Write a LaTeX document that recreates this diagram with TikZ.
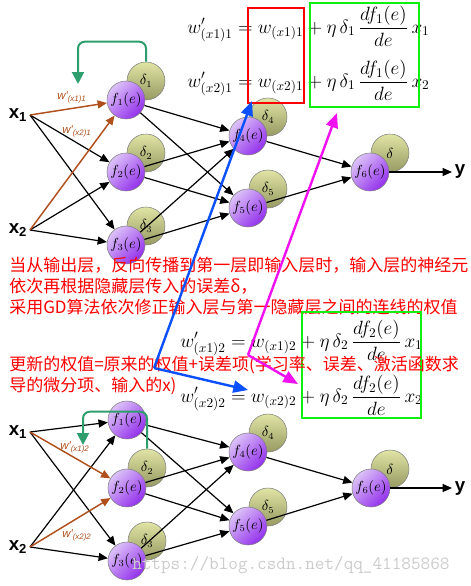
\documentclass[tikz,border=0pt]{standalone}
\usepackage{amsmath,amssymb}
\usepackage{fontspec}
\newfontfamily\cjk{Noto Sans CJK SC}
\newfontfamily\arial{Liberation Sans}
\usepackage{tikz}
\usetikzlibrary{arrows.meta}
\usepackage{xcolor}
\definecolor{fLight}{HTML}{DCC2F8}
\definecolor{fDark}{HTML}{9330EC}
\definecolor{dLight}{HTML}{E0E4A4}
\definecolor{dDark}{HTML}{979A62}
\definecolor{wbrown}{HTML}{B0501C}
\definecolor{fbgreen}{HTML}{2E9E6E}
\definecolor{pointblue}{HTML}{0A50FF}
\definecolor{pointmag}{HTML}{F010F0}
\definecolor{boxgreen}{HTML}{10F010}

\begin{document}
\begin{tikzpicture}[x=0.75pt,y=-0.75pt,>={Triangle[length=7pt,width=6pt]},
  fnode/.style={circle,draw=black!50,line width=0.4pt,inner sep=0pt,minimum size=28.5pt,
    top color=fLight,bottom color=fDark,shading angle=45,font=\fontsize{10.5}{11}\selectfont},
  dnode/.style={fnode,top color=dLight,bottom color=dDark},
  xin/.style={font=\arial\bfseries\fontsize{14}{15}\selectfont,inner sep=2pt},
  edge/.style={->,line width=0.9pt},
  wedge/.style={->,line width=1.1pt,draw=wbrown},
  wlabel/.style={text=wbrown,font=\arial\itshape\fontsize{8.5}{9}\selectfont,inner sep=0pt},
  fback/.style={-{Triangle[length=9pt,width=9pt]},line width=1.5pt,draw=fbgreen,rounded corners=5pt},
  eqn/.style={anchor=west,inner sep=0pt,font=\fontsize{14}{16}\selectfont},
  redtext/.style={anchor=west,align=left,inner sep=0pt,text=red,font=\cjk\fontsize{12.75}{15.75}\selectfont},
  bluearr/.style={-{Triangle[length=11pt,width=9pt]},line width=1.8pt,draw=pointblue},
  magarr/.style={-{Triangle[length=11pt,width=9pt]},line width=1.8pt,draw=pointmag}]
\useasboundingbox (0,0) rectangle (471,586);
\fill[white] (0,0) rectangle (471,586);

% upper network
\node[xin,anchor=east] (tx1) at (30,115) {x\textsubscript{1}};
\node[xin,anchor=east] (tx2) at (30,230) {x\textsubscript{2}};
\node[dnode] (td1) at (146,81) {$\delta_1$};
\node[dnode] (td2) at (146,153) {$\delta_2$};
\node[dnode] (td3) at (146,226) {$\delta_3$};
\node[dnode] (td4) at (268,117) {$\delta_4$};
\node[dnode] (td5) at (268,189) {$\delta_5$};
\node[dnode] (td6) at (390,153) {$\delta$};
\node[fnode] (tf1) at (126,100) {$f_1(e)$};
\node[fnode] (tf2) at (126,172) {$f_2(e)$};
\node[fnode] (tf3) at (126,245) {$f_3(e)$};
\node[fnode] (tf4) at (248,136) {$f_4(e)$};
\node[fnode] (tf5) at (248,208) {$f_5(e)$};
\node[fnode] (tf6) at (370,172) {$f_6(e)$};
\node[xin,anchor=west] (ty) at (452,172) {y};
\foreach \i in {2,3} {
  \draw[edge] (tx1.east) -- (tf\i);
  \draw[edge] (tx2.east) -- (tf\i);
}
\foreach \a in {1,2,3} \foreach \b in {4,5} \draw[edge] (tf\a) -- (tf\b);
\foreach \b in {4,5} \draw[edge] (tf\b) -- (tf6);
\draw[edge] (tf6) -- (ty.west);
\draw[wedge] (tx1.east) -- (tf1);
\draw[wedge] (tx2.east) -- (tf1);
\node[wlabel] (tw1) at (72,97) {w'\textsubscript{(x1)1}};
\node[wlabel] (tw2) at (77,131) {w'\textsubscript{(x2)1}};
\coordinate (tfb) at (78,84);
\draw[fback] (td1.north) -- ++(0,-20) -| (tfb);

% upper formulas
\node[eqn] (teq1) at (187,26) {$\displaystyle w'_{(x1)1}=w_{(x1)1}+\eta\,\delta_1\,\frac{df_1(e)}{de}\,x_1$};
\node[eqn] (teq2) at (187,80) {$\displaystyle w'_{(x2)1}=w_{(x2)1}+\eta\,\delta_1\,\frac{df_1(e)}{de}\,x_2$};
\draw[red,line width=1.5pt] (248,8) rectangle (304,103);
\draw[boxgreen,line width=1.5pt] (310,3) rectangle (419,107);

% notes
\node[redtext] (note1) at (9,286) {当从输出层，反向传播到第一层即输入层时，输入层的神经元\\依次再根据隐藏层传入的误差δ，\\采用GD算法依次修正输入层与第一隐藏层之间的连线的权值};

% lower formulas
\node[eqn] (beq1) at (180,340) {$\displaystyle w'_{(x1)2}=w_{(x1)2}+\eta\,\delta_2\,\frac{df_2(e)}{de}\,x_1$};
\node[eqn] (beq2) at (180,395) {$\displaystyle w'_{(x2)2}=w_{(x2)2}+\eta\,\delta_2\,\frac{df_2(e)}{de}\,x_2$};
\draw[boxgreen,line width=1.5pt] (302,312) rectangle (421,418);
\node[redtext] (note2) at (9,375.5) {更新的权值=原来的权值+误差项(学习率、误差、激活函数求\\导的微分项、输入的x)};

% lower network
\node[xin,anchor=east] (bx1) at (30,432) {x\textsubscript{1}};
\node[xin,anchor=east] (bx2) at (30,547) {x\textsubscript{2}};
\node[dnode] (bd2) at (147,468) {$\delta_2$};
\node[dnode] (bd3) at (147,541) {$\delta_3$};
\node[dnode] (bd4) at (268,433) {$\delta_4$};
\node[dnode] (bd5) at (268,507) {$\delta_5$};
\node[dnode] (bd6) at (390,469) {$\delta$};
\node[fnode] (bf1) at (127,420) {$f_1(e)$};
\node[fnode] (bf2) at (127,488) {$f_2(e)$};
\node[fnode] (bf3) at (127,561) {$f_3(e)$};
\node[fnode] (bf4) at (248,452) {$f_4(e)$};
\node[fnode] (bf5) at (248,526) {$f_5(e)$};
\node[fnode] (bf6) at (371,488) {$f_6(e)$};
\node[xin,anchor=west] (by) at (452,488) {y};
\foreach \i in {1,3} {
  \draw[edge] (bx1.east) -- (bf\i);
  \draw[edge] (bx2.east) -- (bf\i);
}
\foreach \a in {1,2,3} \foreach \b in {4,5} \draw[edge] (bf\a) -- (bf\b);
\foreach \b in {4,5} \draw[edge] (bf\b) -- (bf6);
\draw[edge] (bf6) -- (by.west);
\draw[wedge] (bx1.east) -- (bf2);
\draw[wedge] (bx2.east) -- (bf2);
\node[wlabel] (bw1) at (75,447) {w'\textsubscript{(x1)2}};
\node[wlabel] (bw2) at (77,535) {w'\textsubscript{(x2)2}};
\coordinate (bfb) at (83,445);
\draw[fback] (bd2.north) -- ++(0,-37) -| (bfb);

% pointers
\coordinate (bj) at (154,368);
\coordinate (bt1) at (252,101);
\coordinate (bt2) at (248,390);
\coordinate (mj) at (248,355);
\coordinate (mt1) at (337,113);
\coordinate (mt2) at (298,384);
\draw[bluearr] (bj) -- (bt1);
\draw[bluearr] (bj) -- (bt2);
\draw[magarr] (mj) -- (mt1);
\draw[magarr] (mj) -- (mt2);

\node[anchor=west,inner sep=0pt,text=black!20,font=\ttfamily\fontsize{14}{14}\selectfont] (mark) at (132,565) {https://blog.csdn.net/qq\_41185868};
\end{tikzpicture}
\end{document}
